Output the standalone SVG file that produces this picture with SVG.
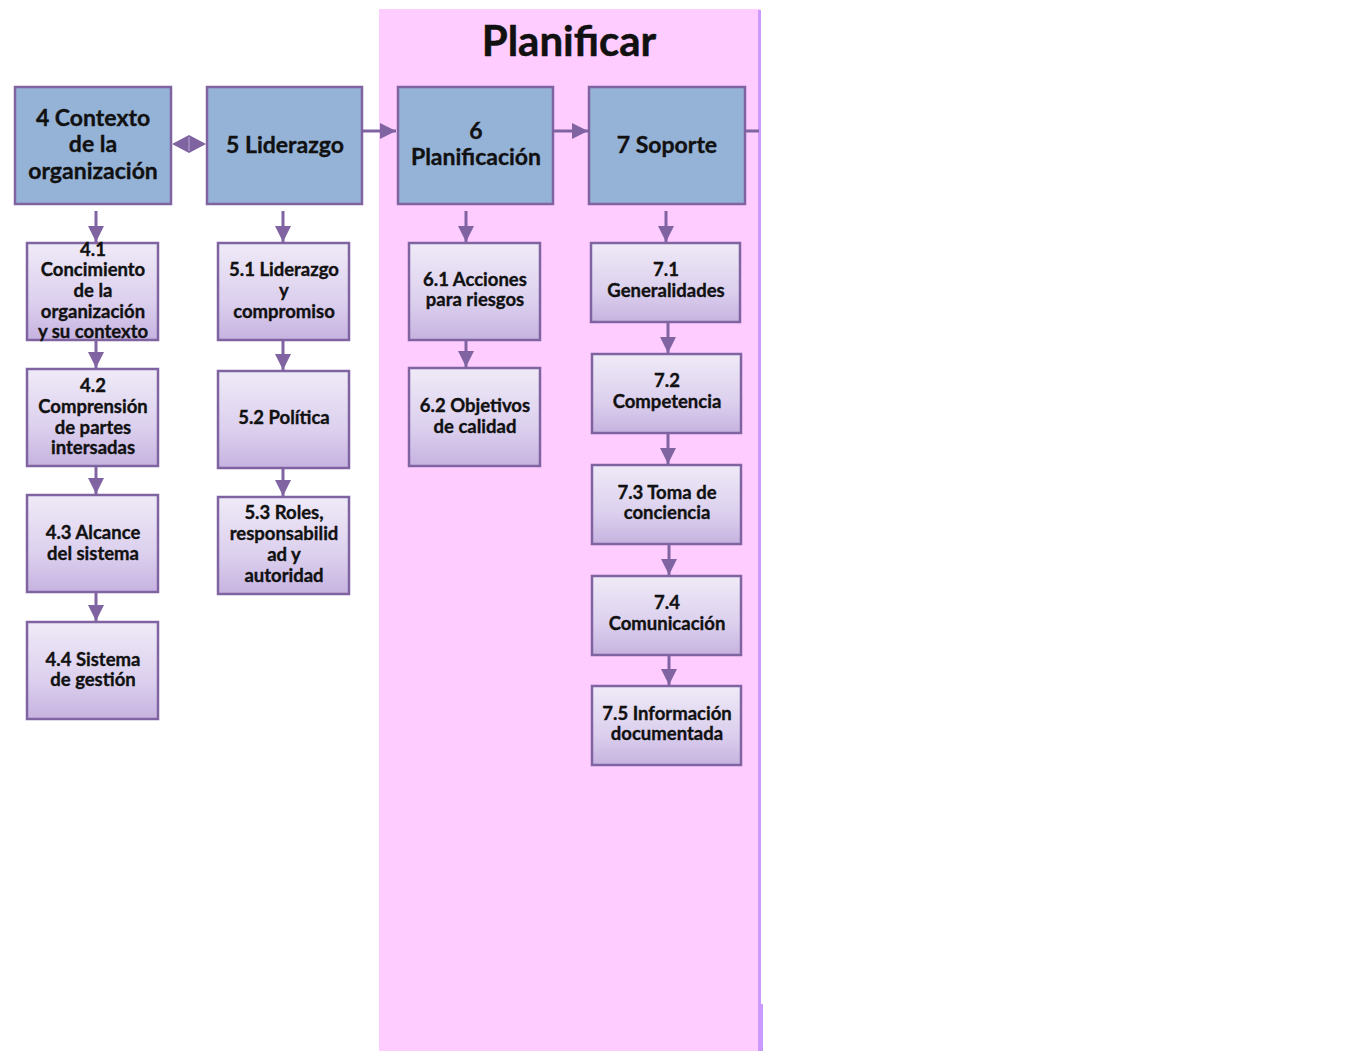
<svg xmlns="http://www.w3.org/2000/svg" width="1346" height="1051" viewBox="0 0 1346 1051">
  <defs>
    <linearGradient id="subFill" x1="0" y1="0" x2="0" y2="1">
      <stop offset="0" stop-color="#EFEAF7"/>
      <stop offset="0.6" stop-color="#DCD0EE"/>
      <stop offset="1" stop-color="#C6B3E0"/>
    </linearGradient>
    <marker id="arrow" viewBox="0 0 10 10" refX="10" refY="5" markerWidth="5.5" markerHeight="5.5" markerUnits="strokeWidth" orient="auto">
      <path d="M0,0 L10,5 L0,10 Z" fill="#8064A2"/>
    </marker>
  </defs>
  <style>
    .main rect { fill: #95B3D7; stroke: #7F64A1; stroke-width: 2.5; }
    .sub rect { fill: url(#subFill); stroke: #8064A2; stroke-width: 2.5; }
    text { font-family: Lato, "Open Sans", "Liberation Sans", sans-serif; font-weight: 700; fill: #111111; stroke: #111111; stroke-width: 0.35; text-anchor: middle; }
    .main text { font-size: 23px; }
    .sub text { font-size: 18.5px; }
    .title { font-size: 42px; stroke-width: 0.5; }
    #connectors line { stroke: #8064A2; stroke-width: 3; fill: none; }
  </style>

  <rect width="1346" height="1051" fill="#FFFFFF"/>

  <!-- planning band -->
  <g id="band">
    <rect x="379" y="9" width="381" height="1042" fill="#FFCCFF"/>
    <rect x="758" y="10" width="3" height="995" fill="#CC99FF"/>
    <rect x="758" y="1004" width="5" height="47" fill="#CC99FF"/>
    <text class="title" x="569" y="56">Planificar</text>
  </g>

  <!-- connectors -->
  <g id="connectors">
    <polygon points="172,144 189,135 206,144 189,153" fill="#8064A2"/>
    <line x1="189" y1="137" x2="189" y2="151" style="stroke:#B9A6D2;stroke-width:1"/>
    <line x1="363" y1="131" x2="396" y2="131" marker-end="url(#arrow)"/>
    <line x1="554" y1="131" x2="588" y2="131" marker-end="url(#arrow)"/>
    <line x1="746" y1="131" x2="759" y2="131"/>

    <line x1="96" y1="211" x2="96" y2="242" marker-end="url(#arrow)"/>
    <line x1="96" y1="341" x2="96" y2="368" marker-end="url(#arrow)"/>
    <line x1="96" y1="467" x2="96" y2="494" marker-end="url(#arrow)"/>
    <line x1="96" y1="593" x2="96" y2="621" marker-end="url(#arrow)"/>

    <line x1="283" y1="211" x2="283" y2="242" marker-end="url(#arrow)"/>
    <line x1="283" y1="341" x2="283" y2="370" marker-end="url(#arrow)"/>
    <line x1="283" y1="469" x2="283" y2="496" marker-end="url(#arrow)"/>

    <line x1="466" y1="211" x2="466" y2="242" marker-end="url(#arrow)"/>
    <line x1="466" y1="341" x2="466" y2="367" marker-end="url(#arrow)"/>

    <line x1="666" y1="211" x2="666" y2="242" marker-end="url(#arrow)"/>
    <line x1="668" y1="323" x2="668" y2="353" marker-end="url(#arrow)"/>
    <line x1="668" y1="434" x2="668" y2="464" marker-end="url(#arrow)"/>
    <line x1="669" y1="545" x2="669" y2="575" marker-end="url(#arrow)"/>
    <line x1="669" y1="656" x2="669" y2="685" marker-end="url(#arrow)"/>
  </g>

  <!-- main clauses -->
  <g id="n4" class="main">
    <rect x="15" y="87" width="156" height="117"/>
    <text x="93" y="126">4 Contexto</text>
    <text x="93" y="152">de la</text>
    <text x="93" y="179">organización</text>
  </g>
  <g id="n5" class="main">
    <rect x="207" y="87" width="155" height="117"/>
    <text x="285" y="153">5 Liderazgo</text>
  </g>
  <g id="n6" class="main">
    <rect x="398" y="87" width="155" height="117"/>
    <text x="476" y="139">6</text>
    <text x="476" y="165">Planificación</text>
  </g>
  <g id="n7" class="main">
    <rect x="589" y="87" width="156" height="117"/>
    <text x="667" y="153">7 Soporte</text>
  </g>

  <!-- clause 4 items -->
  <g id="n41" class="sub">
    <rect x="27" y="243" width="131" height="97"/>
    <text x="93" y="256">4.1</text>
    <text x="93" y="276">Concimiento</text>
    <text x="93" y="297">de la</text>
    <text x="93" y="318">organización</text>
    <text x="93" y="338">y su contexto</text>
  </g>
  <g id="n42" class="sub">
    <rect x="27" y="369" width="131" height="97"/>
    <text x="93" y="392">4.2</text>
    <text x="93" y="413">Comprensión</text>
    <text x="93" y="434">de partes</text>
    <text x="93" y="454">intersadas</text>
  </g>
  <g id="n43" class="sub">
    <rect x="27" y="495" width="131" height="97"/>
    <text x="93" y="539">4.3 Alcance</text>
    <text x="93" y="560">del sistema</text>
  </g>
  <g id="n44" class="sub">
    <rect x="27" y="622" width="131" height="97"/>
    <text x="93" y="666">4.4 Sistema</text>
    <text x="93" y="686">de gestión</text>
  </g>

  <!-- clause 5 items -->
  <g id="n51" class="sub">
    <rect x="218" y="243" width="131" height="97"/>
    <text x="284" y="276">5.1 Liderazgo</text>
    <text x="284" y="297">y</text>
    <text x="284" y="318">compromiso</text>
  </g>
  <g id="n52" class="sub">
    <rect x="218" y="371" width="131" height="97"/>
    <text x="284" y="424">5.2 Política</text>
  </g>
  <g id="n53" class="sub">
    <rect x="218" y="497" width="131" height="97"/>
    <text x="284" y="519">5.3 Roles,</text>
    <text x="284" y="540">responsabilid</text>
    <text x="284" y="561">ad y</text>
    <text x="284" y="582">autoridad</text>
  </g>

  <!-- clause 6 items -->
  <g id="n61" class="sub">
    <rect x="409" y="243" width="131" height="97"/>
    <text x="475" y="286">6.1 Acciones</text>
    <text x="475" y="306">para riesgos</text>
  </g>
  <g id="n62" class="sub">
    <rect x="409" y="368" width="131" height="98"/>
    <text x="475" y="412">6.2 Objetivos</text>
    <text x="475" y="433">de calidad</text>
  </g>

  <!-- clause 7 items -->
  <g id="n71" class="sub">
    <rect x="591" y="243" width="149" height="79"/>
    <text x="666" y="276">7.1</text>
    <text x="666" y="297">Generalidades</text>
  </g>
  <g id="n72" class="sub">
    <rect x="592" y="354" width="149" height="79"/>
    <text x="667" y="387">7.2</text>
    <text x="667" y="408">Competencia</text>
  </g>
  <g id="n73" class="sub">
    <rect x="592" y="465" width="149" height="79"/>
    <text x="667" y="499">7.3 Toma de</text>
    <text x="667" y="519">conciencia</text>
  </g>
  <g id="n74" class="sub">
    <rect x="592" y="576" width="149" height="79"/>
    <text x="667" y="609">7.4</text>
    <text x="667" y="630">Comunicación</text>
  </g>
  <g id="n75" class="sub">
    <rect x="592" y="686" width="149" height="79"/>
    <text x="667" y="720">7.5 Información</text>
    <text x="667" y="740">documentada</text>
  </g>
</svg>
